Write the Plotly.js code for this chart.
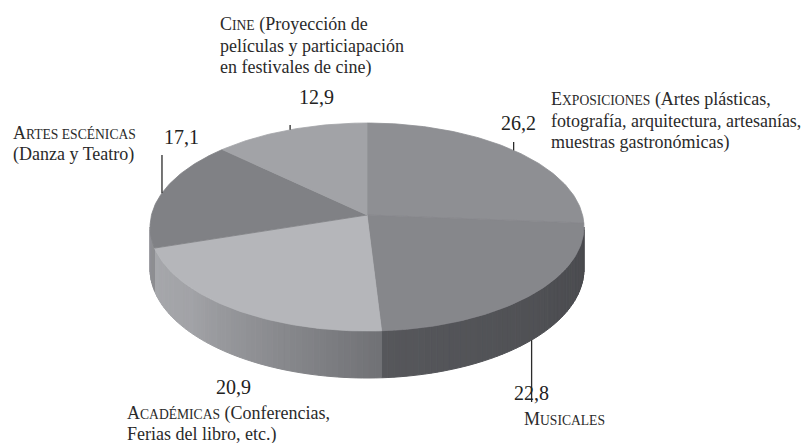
<!DOCTYPE html>
<html>
<head>
<meta charset="utf-8">
<script src="https://cdn.plot.ly/plotly-3.0.1.min.js"></script>
<style>html,body{margin:0;padding:0;background:#fff;}#chart{width:810px;height:443px;}</style>
</head>
<body>
<div id="chart"></div>
<script>
// ---- data ----
const categories = ['Exposiciones', 'Musicales', 'Académicas', 'Artes escénicas', 'Cine'];
const values = [26.2, 22.8, 20.9, 17.1, 12.9];
const valueLabels = ['26,2', '22,8', '20,9', '17,1', '12,9'];
const descriptions = [
  ' (Artes plásticas,<br>fotografía, arquitectura, artesanías,<br>muestras gastronómicas)',
  '',
  ' (Conferencias,<br>Ferias del libro, etc.)',
  '<br>(Danza y Teatro)',
  ' (Proyección de<br>películas y particiapación<br>en festivales de cine)'
];

// ---- styles ----
const FONT = 'Liberation Serif';
const LABEL_SIZE = 18, SMALLCAPS_SIZE = 13.6, NUM_SIZE = 20, LINE_GAP = 21.7;
const topColors = ['#8e8f93', '#86878b', '#b5b6ba', '#808185', '#a2a3a7'];
const sideStops = [
  [['#47484c', 0], ['#47484c', 1]],
  [['#48494d', 0], ['#505155', 0.5], ['#56575b', 1]],
  [['#707175', 0], ['#8a8b8f', 0.35], ['#a2a3a7', 0.7], ['#a6a7ab', 1]],
  [['#8c8d91', 0], ['#909195', 1]],
  [['#909195', 0], ['#909195', 1]]
];
// label placement (layout): left x, first-line y
const labelPos = [[549, 99], [522, 419], [125, 413], [11, 133], [218, 24]];
const numberPos = [[518, 123], [531, 393], [233, 387], [181, 137], [316, 97]];
const leaderEnd = [142, 402, null, 155, 125];

// pie geometry (perspective ellipse)
const CX = 367, CY = 215, A = 215.5, B = 102.6, K = 0.1154, H = 41.6;
function proj(deg, down) {
  const t = deg * Math.PI / 180;
  const u = Math.sin(t), v = Math.cos(t);
  const w = 1 + K * v;
  return [CX + A * u / w, CY - B * v / w + (down ? H / w : 0)];
}
function hex2rgb(h) { return [1, 3, 5].map(i => parseInt(h.substr(i, 2), 16)); }
function interp(stops, f) {
  for (let i = 0; i < stops.length - 1; i++) {
    const [c0, p0] = stops[i], [c1, p1] = stops[i + 1];
    if (f >= p0 && f <= p1) {
      const r = (p1 - p0) ? (f - p0) / (p1 - p0) : 0;
      const a = hex2rgb(c0), b = hex2rgb(c1);
      return 'rgb(' + a.map((x, j) => Math.round(x + (b[j] - x) * r)).join(',') + ')';
    }
  }
  return stops[stops.length - 1][0];
}
function smallCaps(s) {
  return s.charAt(0).toUpperCase() +
    '<span style="font-size:' + SMALLCAPS_SIZE + 'px">' + s.slice(1).toUpperCase() + '</span>';
}

const total = values.reduce((s, x) => s + x, 0);
const starts = [], ends = [];
let acc = 0;
values.forEach(v => { starts.push(acc / total * 360); acc += v; ends.push(acc / total * 360); });

const traces = [];
const thR = Math.acos(-K) * 180 / Math.PI, thL = 360 - thR;

// side walls
values.forEach((v, i) => {
  const s0 = Math.max(starts[i], thR), s1 = Math.min(ends[i], thL);
  if (s1 <= s0) return;
  const n = Math.max(2, Math.ceil((s1 - s0) / 1.5));
  for (let k = 0; k < n; k++) {
    const t0 = s0 + (s1 - s0) * k / n, t1 = s0 + (s1 - s0) * (k + 1) / n;
    const col = interp(sideStops[i], (k + 0.5) / n);
    const pts = [proj(t0, false), proj(t1, false), proj(t1, true), proj(t0, true)];
    traces.push({
      type: 'scatter', mode: 'lines', fill: 'toself', fillcolor: col,
      line: { color: col, width: 1 },
      x: pts.map(p => p[0]).concat([pts[0][0]]),
      y: pts.map(p => p[1]).concat([pts[0][1]]),
      hoverinfo: 'skip'
    });
  }
});

// top faces
values.forEach((v, i) => {
  const xs = [CX], ys = [CY];
  const n = Math.max(4, Math.ceil((ends[i] - starts[i]) / 1));
  for (let k = 0; k <= n; k++) {
    const p = proj(starts[i] + (ends[i] - starts[i]) * k / n, false);
    xs.push(p[0]); ys.push(p[1]);
  }
  xs.push(CX); ys.push(CY);
  traces.push({
    type: 'scatter', mode: 'lines', fill: 'toself', fillcolor: topColors[i],
    line: { color: topColors[i], width: 0.8 }, x: xs, y: ys,
    name: categories[i], hoverinfo: 'skip'
  });
});

// leader lines
const lx = [], ly = [];
values.forEach((v, i) => {
  if (leaderEnd[i] === null) return;
  const mid = (starts[i] + ends[i]) / 2;
  const front = mid > thR && mid < thL;
  const p = proj(mid, front);
  lx.push(p[0], p[0], null); ly.push(p[1], leaderEnd[i], null);
});
traces.push({ type: 'scatter', mode: 'lines', x: lx, y: ly,
  line: { color: '#2b2b2b', width: 1.3 }, hoverinfo: 'skip' });

const annotations = [];
categories.forEach((c, i) => {
  const lines = (smallCaps(c) + descriptions[i]).split('<br>');
  lines.forEach((ln, j) => {
    annotations.push({
      x: labelPos[i][0], y: labelPos[i][1] + j * LINE_GAP, xref: 'x', yref: 'y',
      xanchor: 'left', yanchor: 'middle', align: 'left', showarrow: false,
      text: ln,
      font: { family: FONT, size: LABEL_SIZE, color: '#2a2a2a' }
    });
  });
  annotations.push({
    x: numberPos[i][0], y: numberPos[i][1], xref: 'x', yref: 'y',
    xanchor: 'center', yanchor: 'middle', showarrow: false,
    text: valueLabels[i],
    font: { family: FONT, size: NUM_SIZE, color: '#222222' }
  });
});

const layout = {
  width: 810, height: 443,
  margin: { l: 0, r: 0, t: 0, b: 0, pad: 0 },
  paper_bgcolor: '#ffffff', plot_bgcolor: '#ffffff',
  font: { family: FONT },
  showlegend: false, hovermode: false,
  xaxis: { range: [0, 810], visible: false, fixedrange: true },
  yaxis: { range: [443, 0], visible: false, fixedrange: true },
  annotations: annotations
};
Plotly.newPlot('chart', traces, layout, { staticPlot: true, displayModeBar: false });
</script>
</body>
</html>
